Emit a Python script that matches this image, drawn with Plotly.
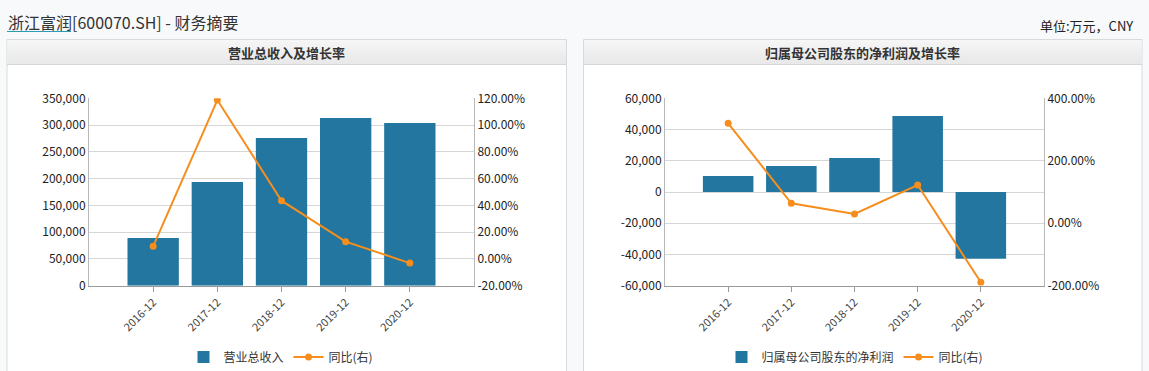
import plotly.graph_objects as go

# ---------------- data ----------------
categories = ["2016-12", "2017-12", "2018-12", "2019-12", "2020-12"]
revenue = [89100, 193700, 275800, 313200, 303900]          # 营业总收入 (万元)
revenue_yoy = [9.4, 118.7, 43.5, 12.9, -3.1]                # 同比 (%)
profit = [10250, 16650, 21770, 48660, -42700]               # 归属母公司股东的净利润 (万元)
profit_yoy = [320.0, 63.8, 29.6, 122.4, -189.0]             # 同比 (%)

rev_ticks = [0, 50000, 100000, 150000, 200000, 250000, 300000, 350000]
rev_pct_ticks = [-20, 0, 20, 40, 60, 80, 100, 120]
prof_ticks = [-60000, -40000, -20000, 0, 20000, 40000, 60000]
prof_pct_ticks = [-200, 0, 200, 400]

rev_tick_text = [f"{v:,}" for v in rev_ticks]
rev_pct_text = [f"{v:.2f}%" for v in rev_pct_ticks]
prof_tick_text = [f"{v:,}" for v in prof_ticks]
prof_pct_text = [f"{v:.2f}%" for v in prof_pct_ticks]

# ---------------- styling ----------------
W, H = 1149, 371
FONT = "Microsoft YaHei, Noto Sans CJK SC, sans-serif"
BAR = "#23769f"
LINE = "#f68e1e"
GRID = "#d6d6d6"
AXIS = "#b8b8b8"
TXT = "#333333"


def px(x):
    return x / W


def py(y):
    return 1 - y / H


ydom = [py(285.7), py(98.3)]
xdom_l = [px(89), px(474)]
xdom_r = [px(665), px(1044)]

fig = go.Figure()
fig.add_trace(go.Bar(x=categories, y=revenue, name="营业总收入", marker_color=BAR,
                     marker_line_width=0, xaxis="x", yaxis="y", legend="legend"))
fig.add_trace(go.Scatter(x=categories, y=revenue_yoy, name="同比(右)", mode="lines+markers",
                         line=dict(color=LINE, width=2), marker=dict(size=7, color=LINE),
                         xaxis="x", yaxis="y2", legend="legend"))
fig.add_trace(go.Bar(x=categories, y=profit, name="归属母公司股东的净利润", marker_color=BAR,
                     marker_line_width=0, xaxis="x2", yaxis="y3", legend="legend2"))
fig.add_trace(go.Scatter(x=categories, y=profit_yoy, name="同比(右)", mode="lines+markers",
                         line=dict(color=LINE, width=2), marker=dict(size=7, color=LINE),
                         xaxis="x2", yaxis="y4", legend="legend2"))

xcommon = dict(type="category", range=[-1, 5], tickangle=-45, ticks="outside", ticklen=5,
               tickcolor="#999999", showline=True, linecolor="#999999", linewidth=1,
               showgrid=False, zeroline=False, automargin=False,
               tickfont=dict(size=11, color="#444444"))
ycommon = dict(showline=True, linecolor=AXIS, linewidth=1, zeroline=False, ticks="",
               automargin=False, tickfont=dict(size=12, color="#222222"), tickmode="array")

shapes = []
annotations = []

# panels
for (x0, x1, cx, title) in [(7, 566.5, 286.7, "营业总收入及增长率"),
                            (583.5, 1142, 862.7, "归属母公司股东的净利润及增长率")]:
    shapes.append(dict(type="rect", xref="paper", yref="paper", x0=px(x0), x1=px(x1),
                       y0=py(420), y1=py(39.5), fillcolor="white",
                       line=dict(color="#dadada", width=1), layer="below"))
    # header gradient
    n = 12
    for i in range(n):
        ya = 40 + i * 24 / n
        yb = 40 + (i + 1) * 24 / n
        c = int(246 - (246 - 233) * i / (n - 1))
        shapes.append(dict(type="rect", xref="paper", yref="paper", x0=px(x0 + 0.5),
                           x1=px(x1 - 0.5), y0=py(yb), y1=py(ya),
                           fillcolor=f"rgb({c},{c},{c})", line=dict(width=0), layer="below"))
    shapes.append(dict(type="line", xref="paper", yref="paper", x0=px(x0), x1=px(x1),
                       y0=py(64.5), y1=py(64.5), line=dict(color="#d6d6d6", width=1),
                       layer="below"))
    annotations.append(dict(text=title, xref="paper", yref="paper", x=px(cx), y=py(52.5),
                            xanchor="center", yanchor="middle", showarrow=False,
                            font=dict(size=13, color=TXT, weight="bold")))

# page title + unit
annotations.append(dict(text="浙江富润[600070.SH] - 财务摘要", xref="paper", yref="paper",
                        x=px(6), y=py(22), xanchor="left", yanchor="middle", showarrow=False,
                        font=dict(size=16, color=TXT)))
shapes.append(dict(type="line", xref="paper", yref="paper", x0=px(7), x1=px(71),
                   y0=py(31.5), y1=py(31.5), line=dict(color="#2b9bb8", width=1)))
annotations.append(dict(text="单位:万元，CNY", xref="paper", yref="paper",
                        x=px(1135), y=py(25.5), xanchor="right", yanchor="middle",
                        showarrow=False, font=dict(size=13, color="#222222")))

legend_common = dict(orientation="h", xanchor="center", yanchor="middle",
                     bgcolor="rgba(0,0,0,0)", font=dict(size=12, color=TXT),
                     itemclick=False, itemdoubleclick=False)

fig.update_layout(
    width=W, height=H,
    margin=dict(l=0, r=0, t=0, b=0, pad=0, autoexpand=False),
    paper_bgcolor="#f8f9fa",
    plot_bgcolor="rgba(0,0,0,0)",
    font=dict(family=FONT, color=TXT),
    bargap=0.2,
    showlegend=True,
    legend=dict(legend_common, x=px(281), y=py(357)),
    legend2=dict(legend_common, x=px(855), y=py(357)),
    xaxis=dict(xcommon, domain=xdom_l, anchor="y"),
    xaxis2=dict(xcommon, domain=xdom_r, anchor="y3"),
    yaxis=dict(ycommon, domain=ydom, anchor="x", range=[0, 350000],
               tickvals=rev_ticks, ticktext=rev_tick_text, showgrid=True, gridcolor=GRID),
    yaxis2=dict(ycommon, overlaying="y", side="right", anchor="x", range=[-20, 120],
                tickvals=rev_pct_ticks, ticktext=rev_pct_text, showgrid=False),
    yaxis3=dict(ycommon, domain=ydom, anchor="x2", range=[-60000, 60000],
                tickvals=prof_ticks, ticktext=prof_tick_text, showgrid=True, gridcolor=GRID),
    yaxis4=dict(ycommon, overlaying="y3", side="right", anchor="x2", range=[-200, 400],
                tickvals=prof_pct_ticks, ticktext=prof_pct_text, showgrid=False),
    shapes=shapes,
    annotations=annotations,
    hovermode=False,
)

fig.write_html("out.html",
               config={"displayModeBar": False},
               post_script="document.body.style.margin='0';document.body.style.overflow='hidden';")
